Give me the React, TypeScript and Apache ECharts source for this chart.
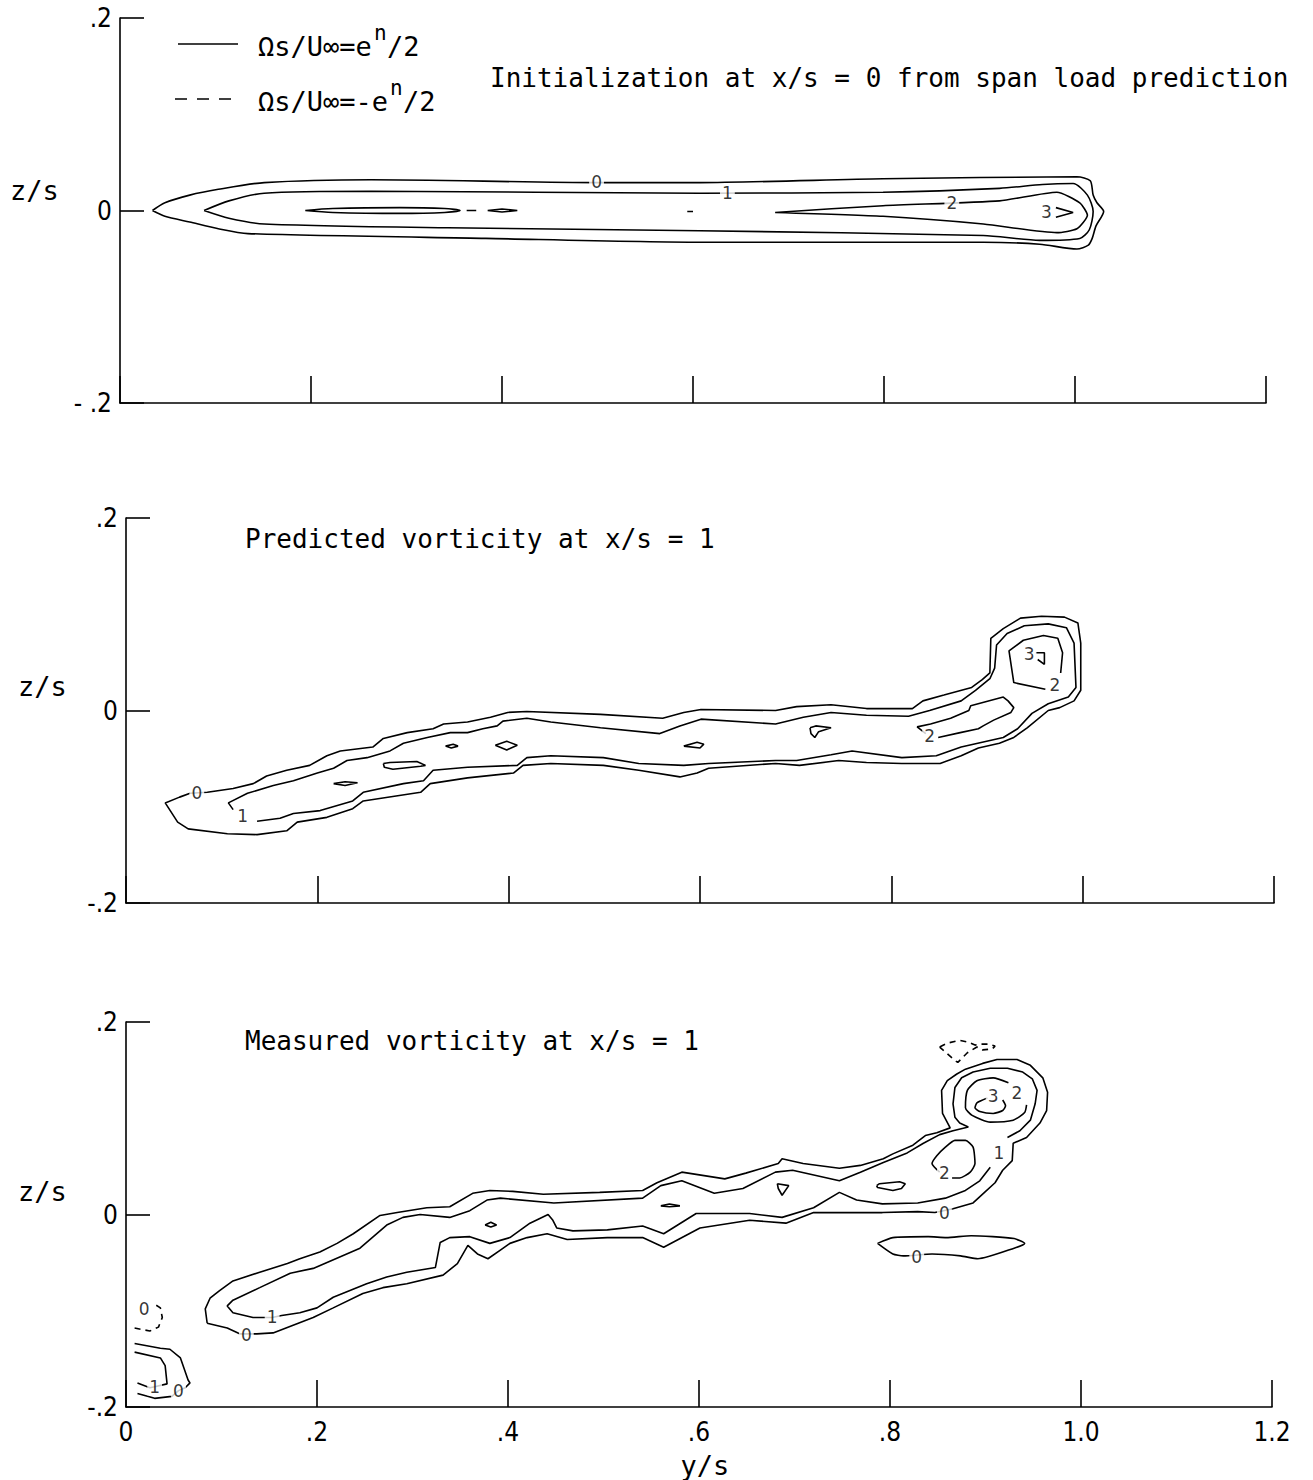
import React, { useEffect, useRef } from "react";
import * as echarts from "echarts";

type Pt = [number, number];

// ---------- axis ticks ----------
const X_TICKS = [0, 0.2, 0.4, 0.6, 0.8, 1.0, 1.2];
const X_TICK_LABELS = ["0", ".2", ".4", ".6", ".8", "1.0", "1.2"];
const Z_TICKS = [-0.2, 0, 0.2];
const Z_TICK_LABELS_TOP = ["- .2", "0", ".2"];
const Z_TICK_LABELS = ["-.2", "0", ".2"];

// ---------- panel 1 : initialization ----------
const P1_LEVEL0: Pt[] = [
  [0.034, 0], [0.047, 0.008], [0.073, 0.016], [0.103, 0.022], [0.151, 0.029], [0.263, 0.032],
  [0.499, 0.029], [0.607, 0.029], [0.799, 0.033], [1.002, 0.035], [1.016, 0.031], [1.019, 0.016],
  [1.023, 0.008], [1.030, -0.001], [1.022, -0.016], [1.018, -0.029], [1.014, -0.036], [1.002, -0.040],
  [0.963, -0.035], [0.904, -0.033], [0.607, -0.033], [0.383, -0.029], [0.134, -0.024], [0.103, -0.019],
  [0.073, -0.012], [0.047, -0.006], [0.034, 0],
];
const P1_LEVEL1: Pt[] = [
  [0.088, 0], [0.114, 0.010], [0.151, 0.018], [0.263, 0.020], [0.607, 0.018], [0.799, 0.019],
  [0.921, 0.023], [0.966, 0.027], [0.998, 0.028], [1.013, 0.016], [1.019, -0.001], [1.015, -0.020],
  [1.005, -0.029], [0.963, -0.031], [0.904, -0.026], [0.607, -0.021], [0.343, -0.018], [0.151, -0.014],
  [0.114, -0.008], [0.088, 0],
];
const P1_LEVEL2: Pt[] = [
  [0.686, -0.002], [0.799, 0.005], [0.921, 0.010], [0.981, 0.019], [1.005, 0.008], [1.013, -0.005],
  [1.002, -0.019], [0.981, -0.023], [0.904, -0.014], [0.799, -0.006], [0.686, -0.002],
];
const P1_LEVEL3: Pt[] = [[0.980, 0.003], [0.998, -0.002], [0.980, -0.007]];
const P1_ISLAND_A: Pt[] = [
  [0.194, 0], [0.223, 0.002], [0.293, 0.003], [0.340, 0.002], [0.356, 0], [0.340, -0.002],
  [0.293, -0.003], [0.223, -0.002], [0.194, 0],
];
const P1_ISLAND_B: Pt[] = [[0.363, 0], [0.373, 0]];
const P1_ISLAND_C: Pt[] = [[0.385, 0], [0.400, 0.0015], [0.416, 0], [0.400, -0.0015], [0.385, 0]];
const P1_ISLAND_D: Pt[] = [[0.594, -0.001], [0.600, -0.001]];
const P1_LABELS: [number, number, string][] = [
  [0.499, 0.030, "0"], [0.636, 0.018, "1"], [0.871, 0.008, "2"], [0.970, -0.002, "3"],
];

// ---------- panel 2 : predicted ----------
const P2_LEVEL0: Pt[] = [
  [0.085, -0.085], [0.112, -0.081], [0.133, -0.076], [0.147, -0.068], [0.168, -0.062], [0.192, -0.057],
  [0.210, -0.047], [0.224, -0.042], [0.258, -0.038], [0.269, -0.029], [0.294, -0.023], [0.321, -0.019],
  [0.332, -0.014], [0.357, -0.012], [0.381, -0.007], [0.399, -0.002], [0.419, -0.001], [0.496, -0.004],
  [0.561, -0.008], [0.583, -0.002], [0.601, 0.001], [0.679, 0.000], [0.701, 0.004], [0.737, 0.006],
  [0.774, 0.002], [0.822, 0.002], [0.833, 0.010], [0.855, 0.016], [0.884, 0.024], [0.895, 0.032],
  [0.903, 0.039], [0.904, 0.075], [0.917, 0.085], [0.935, 0.096], [0.957, 0.098], [0.981, 0.097],
  [0.995, 0.091], [0.998, 0.070], [0.998, 0.021], [0.991, 0.010], [0.976, 0.003], [0.964, 0.000],
  [0.942, -0.018], [0.928, -0.028], [0.913, -0.034], [0.891, -0.039], [0.873, -0.047], [0.851, -0.055],
  [0.811, -0.055], [0.774, -0.054], [0.745, -0.052], [0.704, -0.057], [0.679, -0.055], [0.609, -0.060],
  [0.597, -0.065], [0.579, -0.069], [0.536, -0.062], [0.499, -0.057], [0.444, -0.055], [0.415, -0.057],
  [0.405, -0.065], [0.357, -0.070], [0.318, -0.076], [0.308, -0.085], [0.248, -0.094], [0.237, -0.102],
  [0.210, -0.111], [0.179, -0.116], [0.168, -0.125], [0.137, -0.129], [0.106, -0.128], [0.065, -0.123],
  [0.054, -0.116], [0.041, -0.096], [0.056, -0.090], [0.067, -0.086], [0.085, -0.085],
];
const P2_LEVEL1: Pt[] = [
  [0.112, -0.103], [0.107, -0.096], [0.127, -0.086], [0.154, -0.078], [0.175, -0.073], [0.200, -0.065],
  [0.217, -0.060], [0.231, -0.052], [0.252, -0.049], [0.276, -0.042], [0.290, -0.034], [0.315, -0.028],
  [0.339, -0.023], [0.357, -0.023], [0.373, -0.019], [0.388, -0.016], [0.394, -0.011], [0.419, -0.008],
  [0.444, -0.012], [0.496, -0.018], [0.558, -0.024], [0.579, -0.016], [0.601, -0.009], [0.679, -0.014],
  [0.708, -0.007], [0.737, -0.002], [0.774, -0.005], [0.818, -0.006], [0.840, 0.000], [0.873, 0.010],
  [0.888, 0.021], [0.903, 0.033], [0.908, 0.044], [0.910, 0.068], [0.921, 0.080], [0.939, 0.088],
  [0.964, 0.090], [0.983, 0.086], [0.991, 0.070], [0.993, 0.024], [0.985, 0.014], [0.964, 0.007],
  [0.947, -0.003], [0.932, -0.019], [0.917, -0.028], [0.895, -0.033], [0.873, -0.038], [0.847, -0.047],
  [0.811, -0.049], [0.759, -0.042], [0.737, -0.046], [0.701, -0.052], [0.679, -0.052], [0.609, -0.055],
  [0.583, -0.057], [0.536, -0.055], [0.499, -0.049], [0.444, -0.047], [0.419, -0.049], [0.409, -0.057],
  [0.357, -0.059], [0.321, -0.062], [0.311, -0.073], [0.290, -0.076], [0.248, -0.085], [0.237, -0.094],
  [0.203, -0.104], [0.175, -0.107], [0.161, -0.112], [0.137, -0.115],
];
const P2_LEVEL2_LOW: Pt[] = [
  [0.836, -0.024], [0.827, -0.017], [0.841, -0.014], [0.862, -0.008], [0.881, 0.000], [0.883, 0.005],
  [0.917, 0.014], [0.922, 0.010], [0.928, 0.003], [0.925, -0.002], [0.907, -0.010], [0.896, -0.016],
  [0.891, -0.019], [0.872, -0.023], [0.849, -0.028],
];
const P2_LEVEL2_TOP: Pt[] = [
  [0.977, 0.039], [0.979, 0.060], [0.974, 0.075], [0.959, 0.078], [0.938, 0.073], [0.923, 0.062],
  [0.928, 0.029], [0.961, 0.022],
];
const P2_LEVEL3: Pt[] = [[0.951, 0.060], [0.960, 0.060], [0.960, 0.048], [0.953, 0.053]];
const P2_ISLANDS: Pt[][] = [
  [[0.217, -0.076], [0.229, -0.074], [0.242, -0.075], [0.229, -0.078], [0.217, -0.076]],
  [[0.269, -0.055], [0.276, -0.054], [0.304, -0.053], [0.313, -0.057], [0.308, -0.058], [0.279, -0.061], [0.270, -0.059], [0.269, -0.055]],
  [[0.334, -0.037], [0.342, -0.035], [0.347, -0.037], [0.340, -0.039], [0.334, -0.037]],
  [[0.386, -0.036], [0.398, -0.032], [0.409, -0.036], [0.398, -0.041], [0.386, -0.036]],
  [[0.583, -0.037], [0.597, -0.033], [0.604, -0.035], [0.600, -0.039], [0.583, -0.037]],
  [[0.715, -0.018], [0.721, -0.016], [0.737, -0.018], [0.724, -0.022], [0.720, -0.028], [0.716, -0.024], [0.715, -0.018]],
];
const P2_LABELS: [number, number, string][] = [
  [0.074, -0.086, "0"], [0.122, -0.110, "1"], [0.840, -0.027, "2"], [0.971, 0.026, "2"], [0.944, 0.059, "3"],
];

// ---------- panel 3 : measured ----------
const P3_LEVEL0: Pt[] = [
  [0.085, -0.113], [0.083, -0.098], [0.088, -0.087], [0.098, -0.079], [0.112, -0.069], [0.140, -0.060],
  [0.169, -0.051], [0.182, -0.046], [0.203, -0.039], [0.221, -0.030], [0.238, -0.020], [0.266, -0.001],
  [0.284, 0.002], [0.315, 0.007], [0.339, 0.008], [0.363, 0.022], [0.381, 0.025], [0.405, 0.024],
  [0.437, 0.021], [0.496, 0.023], [0.541, 0.025], [0.556, 0.033], [0.582, 0.044], [0.627, 0.037],
  [0.649, 0.043], [0.683, 0.053], [0.687, 0.058], [0.709, 0.053], [0.747, 0.048], [0.769, 0.051],
  [0.793, 0.058], [0.803, 0.063], [0.824, 0.072], [0.837, 0.082], [0.849, 0.085], [0.863, 0.090],
  [0.855, 0.105], [0.854, 0.129], [0.860, 0.139], [0.870, 0.146], [0.879, 0.151], [0.897, 0.157],
  [0.912, 0.161], [0.933, 0.161], [0.947, 0.155], [0.960, 0.142], [0.965, 0.127], [0.964, 0.108],
  [0.957, 0.095], [0.943, 0.080], [0.929, 0.074], [0.928, 0.056], [0.918, 0.046], [0.910, 0.033],
  [0.899, 0.023], [0.887, 0.012], [0.866, 0.006], [0.847, 0.002], [0.829, 0.003], [0.792, 0.002],
  [0.765, 0.002], [0.720, 0.002], [0.691, -0.009], [0.653, -0.006], [0.601, -0.014], [0.563, -0.034],
  [0.541, -0.024], [0.504, -0.024], [0.462, -0.026], [0.441, -0.020], [0.420, -0.024], [0.402, -0.030],
  [0.392, -0.037], [0.379, -0.046], [0.368, -0.041], [0.358, -0.032], [0.347, -0.051], [0.332, -0.063],
  [0.294, -0.072], [0.269, -0.076], [0.248, -0.082], [0.217, -0.097], [0.196, -0.107], [0.175, -0.115],
  [0.154, -0.123], [0.137, -0.124], [0.119, -0.124], [0.106, -0.118], [0.085, -0.113],
];
const P3_LEVEL1: Pt[] = [
  [0.923, 0.080], [0.936, 0.087], [0.947, 0.098], [0.952, 0.115], [0.954, 0.129], [0.949, 0.141],
  [0.939, 0.148], [0.923, 0.152], [0.905, 0.152], [0.887, 0.148], [0.875, 0.142], [0.868, 0.132],
  [0.866, 0.115], [0.868, 0.101], [0.873, 0.095], [0.882, 0.091], [0.866, 0.087], [0.852, 0.083],
  [0.835, 0.074], [0.818, 0.064], [0.793, 0.054], [0.769, 0.044], [0.747, 0.035], [0.698, 0.046],
  [0.680, 0.044], [0.646, 0.027], [0.616, 0.022], [0.582, 0.035], [0.560, 0.030], [0.541, 0.017],
  [0.448, 0.012], [0.392, 0.017], [0.378, 0.015], [0.360, 0.004], [0.339, -0.003], [0.308, 0.000],
  [0.290, -0.003], [0.273, -0.011], [0.245, -0.035], [0.196, -0.056], [0.172, -0.061], [0.140, -0.076],
  [0.112, -0.089], [0.106, -0.095], [0.112, -0.102], [0.133, -0.107], [0.153, -0.107], [0.163, -0.105],
  [0.182, -0.102], [0.200, -0.097], [0.217, -0.086], [0.252, -0.072], [0.273, -0.065], [0.294, -0.060],
  [0.324, -0.055], [0.329, -0.029], [0.339, -0.024], [0.360, -0.023], [0.381, -0.030], [0.402, -0.024],
  [0.423, -0.009], [0.442, 0.000], [0.447, -0.006], [0.451, -0.014], [0.468, -0.017], [0.504, -0.016],
  [0.541, -0.012], [0.563, -0.020], [0.597, 0.001], [0.653, 0.001], [0.687, -0.003], [0.720, 0.007],
  [0.747, 0.023], [0.765, 0.015], [0.792, 0.011], [0.829, 0.012], [0.858, 0.017], [0.879, 0.025],
  [0.894, 0.035], [0.905, 0.049],
];
const P3_LEVEL2_NECK: Pt[] = [
  [0.852, 0.044], [0.844, 0.053], [0.849, 0.061], [0.858, 0.070], [0.868, 0.077], [0.879, 0.077],
  [0.887, 0.070], [0.889, 0.053], [0.884, 0.044], [0.873, 0.038], [0.865, 0.038],
];
const P3_LEVEL2_TOP: Pt[] = [
  [0.924, 0.137], [0.908, 0.142], [0.891, 0.139], [0.881, 0.129], [0.879, 0.111], [0.886, 0.103],
  [0.905, 0.096], [0.929, 0.098], [0.941, 0.106], [0.943, 0.114],
];
const P3_LEVEL3: Pt[] = [
  [0.902, 0.121], [0.891, 0.116], [0.889, 0.111], [0.894, 0.107], [0.908, 0.105], [0.918, 0.108],
  [0.921, 0.113], [0.918, 0.119],
];
const P3_LOWER_ISLAND: Pt[] = [
  [0.787, -0.030], [0.803, -0.024], [0.840, -0.023], [0.859, -0.024], [0.885, -0.022], [0.930, -0.025],
  [0.941, -0.030], [0.930, -0.035], [0.892, -0.046], [0.874, -0.043], [0.844, -0.041], [0.814, -0.043],
  [0.803, -0.041], [0.787, -0.030],
];
const P3_ISLANDS: Pt[][] = [
  [[0.786, 0.030], [0.789, 0.032], [0.810, 0.034], [0.816, 0.032], [0.812, 0.027], [0.803, 0.025], [0.787, 0.028], [0.786, 0.030]],
  [[0.682, 0.032], [0.694, 0.030], [0.687, 0.020], [0.683, 0.027], [0.682, 0.032]],
  [[0.560, 0.009], [0.569, 0.011], [0.580, 0.009], [0.569, 0.008], [0.560, 0.009]],
  [[0.376, -0.011], [0.382, -0.008], [0.388, -0.011], [0.382, -0.013], [0.376, -0.011]],
];
const P3_CORNER_LEVEL0: Pt[] = [
  [0.009, -0.134], [0.036, -0.139], [0.046, -0.140], [0.057, -0.149], [0.065, -0.172], [0.067, -0.175],
  [0.062, -0.180], [0.055, -0.183], [0.048, -0.189], [0.030, -0.191], [0.012, -0.186],
];
const P3_CORNER_LEVEL1: Pt[] = [
  [0.012, -0.175], [0.025, -0.180], [0.030, -0.179], [0.043, -0.176], [0.041, -0.157], [0.036, -0.149],
  [0.009, -0.143],
];
const P3_NEG_TOP: Pt[] = [
  [0.852, 0.174], [0.860, 0.178], [0.873, 0.181], [0.882, 0.179], [0.889, 0.176], [0.894, 0.177],
  [0.903, 0.177], [0.910, 0.175], [0.907, 0.172], [0.897, 0.171], [0.891, 0.174], [0.881, 0.168],
  [0.871, 0.158], [0.868, 0.160], [0.860, 0.167], [0.852, 0.174],
];
const P3_NEG_CORNER: Pt[] = [
  [0.009, -0.118], [0.025, -0.121], [0.034, -0.117], [0.038, -0.107], [0.036, -0.097], [0.028, -0.092],
];
const P3_LABELS: [number, number, string][] = [
  [0.857, 0.002, "0"], [0.126, -0.125, "0"], [0.914, 0.064, "1"], [0.153, -0.107, "1"],
  [0.857, 0.043, "2"], [0.933, 0.126, "2"], [0.908, 0.123, "3"], [0.828, -0.044, "0"],
  [0.019, -0.098, "0"], [0.030, -0.179, "1"], [0.055, -0.183, "0"],
];

interface Curve { panel: number; pts: Pt[]; dashed?: boolean; smooth?: number }

const CURVES: Curve[] = [
  { panel: 0, pts: P1_LEVEL0, smooth: 0.25 },
  { panel: 0, pts: P1_LEVEL1, smooth: 0.25 },
  { panel: 0, pts: P1_LEVEL2, smooth: 0.2 },
  { panel: 0, pts: P1_LEVEL3 },
  { panel: 0, pts: P1_ISLAND_A, smooth: 0.3 },
  { panel: 0, pts: P1_ISLAND_B },
  { panel: 0, pts: P1_ISLAND_C },
  { panel: 0, pts: P1_ISLAND_D },
  { panel: 1, pts: P2_LEVEL0 },
  { panel: 1, pts: P2_LEVEL1 },
  { panel: 1, pts: P2_LEVEL2_LOW },
  { panel: 1, pts: P2_LEVEL2_TOP },
  { panel: 1, pts: P2_LEVEL3 },
  ...P2_ISLANDS.map((pts) => ({ panel: 1, pts })),
  { panel: 2, pts: P3_LEVEL0 },
  { panel: 2, pts: P3_LEVEL1 },
  { panel: 2, pts: P3_LEVEL2_NECK, smooth: 0.2 },
  { panel: 2, pts: P3_LEVEL2_TOP, smooth: 0.2 },
  { panel: 2, pts: P3_LEVEL3, smooth: 0.2 },
  { panel: 2, pts: P3_LOWER_ISLAND, smooth: 0.2 },
  ...P3_ISLANDS.map((pts) => ({ panel: 2, pts })),
  { panel: 2, pts: P3_CORNER_LEVEL0 },
  { panel: 2, pts: P3_CORNER_LEVEL1 },
  { panel: 2, pts: P3_NEG_TOP, dashed: true },
  { panel: 2, pts: P3_NEG_CORNER, dashed: true },
];

const LABELS = [P1_LABELS, P2_LABELS, P3_LABELS];

const MONO = "'DejaVu Sans Mono', monospace";
const TICKFONT = "'Liberation Sans Narrow', 'DejaVu Sans Condensed', 'DejaVu Sans', sans-serif";

function nearest(v: number, ticks: number[]): number {
  let best = 0;
  for (let i = 0; i < ticks.length; i++) if (Math.abs(ticks[i] - v) < Math.abs(ticks[best] - v)) best = i;
  return best;
}

export default function App() {
  const ref = useRef<HTMLDivElement>(null);
  useEffect(() => {
    if (!ref.current) return;
    const chart = echarts.init(ref.current, null, { renderer: "svg" });
    const grids = [
      { left: 120, top: 18, width: 1146, height: 385 },
      { left: 126, top: 518, width: 1148, height: 385 },
      { left: 126, top: 1022, width: 1146, height: 385 },
    ];
    const axisLineStyle = { color: "#000", width: 1.6 };
    const xAxis = grids.map((_, i) => ({
      type: "value",
      gridIndex: i,
      min: 0,
      max: 1.2,
      interval: 0.2,
      axisLine: { show: true, onZero: false, lineStyle: axisLineStyle },
      axisTick: { show: true, inside: true, length: 27, lineStyle: axisLineStyle },
      splitLine: { show: false },
      axisLabel: {
        show: i === 2,
        margin: 12,
        color: "#000",
        fontSize: 26,
        fontFamily: TICKFONT,
        formatter: (v: number) => X_TICK_LABELS[nearest(v, X_TICKS)],
      },
    }));
    const yAxis = grids.map((_, i) => ({
      type: "value",
      gridIndex: i,
      min: -0.2,
      max: 0.2,
      interval: 0.2,
      axisLine: { show: true, onZero: false, lineStyle: axisLineStyle },
      axisTick: { show: true, inside: true, length: 24, lineStyle: axisLineStyle },
      splitLine: { show: false },
      axisLabel: {
        margin: 8,
        color: "#000",
        fontSize: 26,
        fontFamily: TICKFONT,
        formatter: (v: number) => (i === 0 ? Z_TICK_LABELS_TOP : Z_TICK_LABELS)[nearest(v, Z_TICKS)],
      },
    }));
    const lineSeries = CURVES.map((c) => ({
      type: "line",
      xAxisIndex: c.panel,
      yAxisIndex: c.panel,
      data: c.pts,
      symbol: "none",
      showSymbol: false,
      smooth: c.smooth ?? false,
      silent: true,
      z: 2,
      lineStyle: { color: "#000", width: 1.6, type: c.dashed ? [6, 5] : "solid" },
    }));
    const labelSeries = LABELS.map((labs, i) => ({
      type: "scatter",
      xAxisIndex: i,
      yAxisIndex: i,
      data: labs.map(([x, z, t]) => ({ value: [x, z], name: t })),
      symbolSize: 1,
      itemStyle: { color: "rgba(0,0,0,0)" },
      silent: true,
      z: 10,
      label: {
        show: true,
        position: "inside",
        formatter: "{b}",
        color: "#000",
        fontSize: 17,
        fontFamily: "'DejaVu Sans', sans-serif",
        backgroundColor: "#fff",
        padding: [0, 2],
      },
    }));
    const txt = (text: string, x: number, y: number, size = 26, align = "left") => ({
      type: "text",
      x,
      y,
      silent: true,
      style: { text, fill: "#000", font: `${size}px ${MONO}`, align, verticalAlign: "middle" },
    });
    const graphic = [
      txt("Initialization at x/s = 0 from span load prediction", 490, 78),
      txt("Predicted vorticity at x/s = 1", 245, 539),
      txt("Measured vorticity at x/s = 1", 245, 1041),
      txt("z/s", 10, 190, 27),
      txt("z/s", 18, 686, 27),
      txt("z/s", 18, 1191, 27),
      txt("y/s", 705, 1465, 27, "center"),
      { type: "line", silent: true, shape: { x1: 178, y1: 44, x2: 238, y2: 44 }, style: { stroke: "#000", lineWidth: 1.6 } },
      { type: "line", silent: true, shape: { x1: 175, y1: 99, x2: 238, y2: 99 }, style: { stroke: "#000", lineWidth: 1.6, lineDash: [12, 10] } },
      txt("Ωs/U∞=e", 258, 46, 27),
      txt("n", 374, 33, 21),
      txt("/2", 387, 46, 27),
      txt("Ωs/U∞=-e", 258, 101, 27),
      txt("n", 390, 88, 21),
      txt("/2", 403, 101, 27),
    ];
    chart.setOption({
      animation: false,
      backgroundColor: "#fff",
      grid: grids.map((g) => ({ ...g, containLabel: false, outerBoundsMode: "none" })),
      xAxis,
      yAxis,
      series: [...lineSeries, ...labelSeries],
      graphic,
    } as any);
    return () => chart.dispose();
  }, []);
  return (
    <div
      ref={ref}
      style={{ position: "absolute", left: 0, top: 0, width: 1313, height: 1480, background: "#fff" }}
    />
  );
}
